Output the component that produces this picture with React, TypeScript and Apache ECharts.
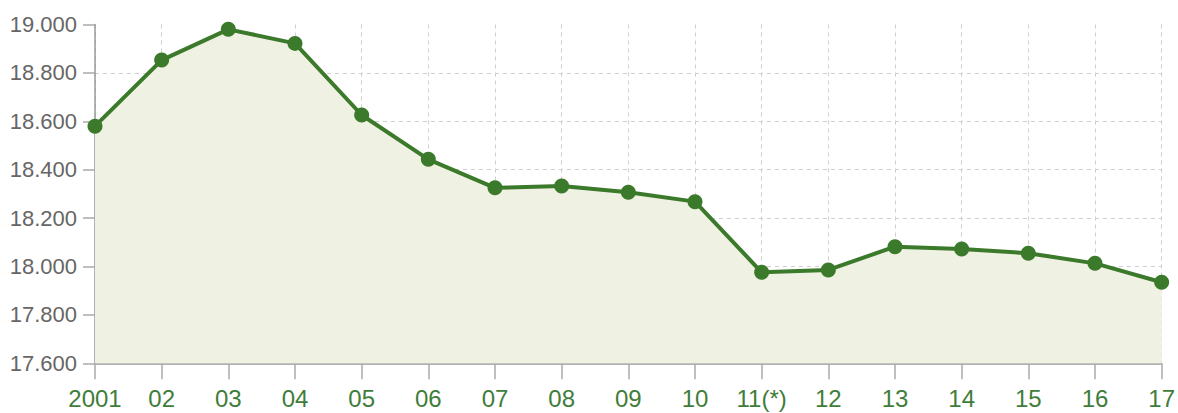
import React, { useEffect, useRef } from "react";
import * as echarts from "echarts";

const categories = ["2001", "02", "03", "04", "05", "06", "07", "08", "09", "10", "11(*)", "12", "13", "14", "15", "16", "17"];
const values = [18580, 18853, 18980, 18922, 18626, 18443, 18325, 18333, 18307, 18268, 17976, 17986, 18082, 18072, 18055, 18013, 17935];
const yMin = 17600;
const yMax = 19000;
const yStep = 200;

export default function App() {
  const ref = useRef<HTMLDivElement>(null);
  useEffect(() => {
    if (!ref.current) return;
    const chart = echarts.init(ref.current, null, { renderer: "svg" });
    const gridColors = ["transparent", "#cfcfcf", "#cfcfcf", "#cfcfcf", "#cfcfcf", "#cfcfcf", "#cfcfcf", "transparent"];
    chart.setOption({
      animation: false,
      backgroundColor: "#ffffff",
      grid: { left: 95, right: 14, top: 24.5, bottom: 49.7, containLabel: false },
      xAxis: {
        type: "category",
        data: categories,
        boundaryGap: false,
        axisLine: { show: true, lineStyle: { color: "#999999", width: 1.5 } },
        axisTick: { show: true, length: 16, alignWithLabel: true, lineStyle: { color: "#aaaaaa", width: 1.5 } },
        axisLabel: {
          color: "#3f7d3a",
          fontSize: 24,
          fontFamily: "'Liberation Sans', Arial, sans-serif",
          margin: 23,
          interval: 0,
        },
        splitLine: { show: true, lineStyle: { color: "#cfcfcf", type: [4, 4], width: 1 } },
      },
      yAxis: {
        type: "value",
        min: yMin,
        max: yMax,
        interval: yStep,
        axisLine: { show: true, lineStyle: { color: "#999999", width: 1.5 } },
        axisTick: { show: true, length: 12, lineStyle: { color: "#aaaaaa", width: 1.5 } },
        axisLabel: {
          color: "#666666",
          fontSize: 22,
          fontFamily: "'Liberation Sans', Arial, sans-serif",
          margin: 18,
          formatter: (v: number) => (v / 1000).toFixed(3),
        },
        splitLine: { show: true, lineStyle: { color: gridColors, type: [4, 4], width: 1 } },
      },
      series: [
        {
          type: "line",
          data: values,
          symbol: "circle",
          symbolSize: 15,
          lineStyle: { color: "#3c7a2b", width: 4 },
          itemStyle: { color: "#3c7a2b" },
          areaStyle: { color: "#eff1e2", opacity: 1 },
        },
      ],
    });
    return () => chart.dispose();
  }, []);
  return <div ref={ref} style={{ position: "fixed", left: 0, top: 0, width: 1178, height: 413 }} />;
}
